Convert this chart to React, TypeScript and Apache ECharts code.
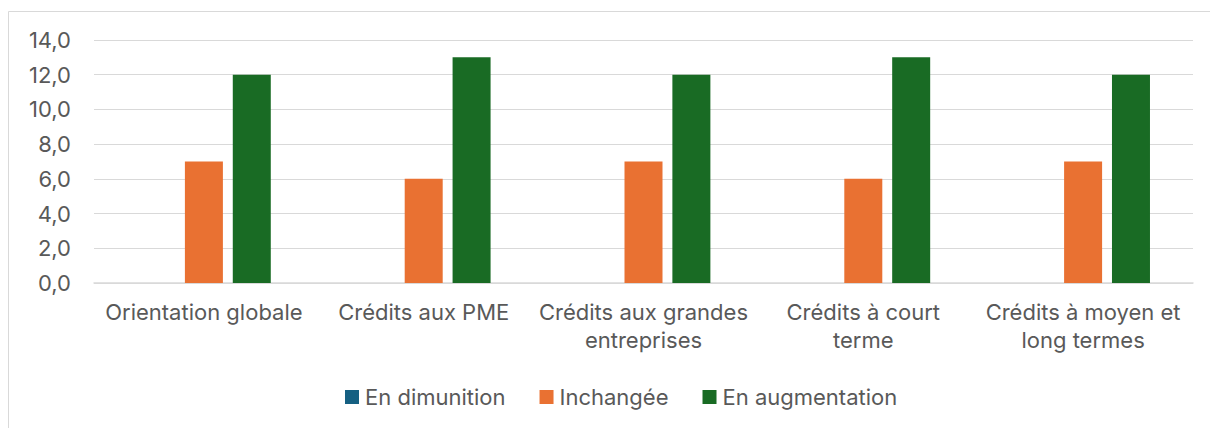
import React, { useEffect, useRef } from "react";
import * as echarts from "echarts";

const categories = [
  "Orientation globale",
  "Crédits aux PME",
  "Crédits aux grandes\nentreprises",
  "Crédits à court\nterme",
  "Crédits à moyen et\nlong termes",
];
const enDiminution = [0, 0, 0, 0, 0];
const inchangee = [7, 6, 7, 6, 7];
const enAugmentation = [12, 13, 12, 13, 12];
const yTicks = { min: 0, max: 14, interval: 2 };

const FONT = "Inter, 'Noto Sans', sans-serif";
const TEXT = "#595959";

export default function App() {
  const ref = useRef<HTMLDivElement>(null);
  useEffect(() => {
    if (!ref.current) return;
    const chart = echarts.init(ref.current, undefined, { renderer: "svg" });
    chart.setOption({
      animation: false,
      backgroundColor: "#ffffff",
      textStyle: { fontFamily: FONT },
      graphic: [
        {
          type: "rect",
          shape: { x: 8.5, y: 11.5, width: 1220, height: 440 },
          style: { fill: "none", stroke: "#d9d9d9", lineWidth: 1 },
          silent: true,
        },
      ],
      grid: { left: 94, right: 17, top: 40, bottom: 145, containLabel: false },
      legend: {
        left: 345,
        top: 386,
        padding: 0,
        itemWidth: 14,
        itemHeight: 14,
        itemGap: 34,
        icon: "rect",
        textStyle: { color: TEXT, fontSize: 22, fontFamily: FONT, padding: [0, 0, 0, 1] },
        data: ["En dimunition", "Inchangée", "En augmentation"],
      },
      xAxis: {
        type: "category",
        data: categories,
        axisLine: { lineStyle: { color: "#d9d9d9", width: 1.5 } },
        axisTick: { show: false },
        axisLabel: {
          color: TEXT,
          fontSize: 22,
          fontFamily: FONT,
          lineHeight: 28,
          margin: 15,
          interval: 0,
        },
      },
      yAxis: {
        type: "value",
        min: yTicks.min,
        max: yTicks.max,
        interval: yTicks.interval,
        axisLine: { show: false },
        axisTick: { show: false },
        splitLine: { lineStyle: { color: "#d9d9d9", width: 1 } },
        axisLabel: {
          color: TEXT,
          fontSize: 22,
          fontFamily: FONT,
          margin: 23,
          formatter: (v: number) => v.toFixed(1).replace(".", ","),
        },
      },
      series: [
        {
          name: "En dimunition",
          type: "bar",
          data: enDiminution,
          barWidth: 38,
          barGap: "26%",
          itemStyle: { color: "#156082" },
        },
        {
          name: "Inchangée",
          type: "bar",
          data: inchangee,
          barWidth: 38,
          barGap: "26%",
          itemStyle: { color: "#E97132" },
        },
        {
          name: "En augmentation",
          type: "bar",
          data: enAugmentation,
          barWidth: 38,
          barGap: "26%",
          itemStyle: { color: "#196B24" },
        },
      ],
    });
    return () => chart.dispose();
  }, []);
  return (
    <div
      ref={ref}
      style={{ position: "absolute", left: 0, top: 0, width: 1210, height: 428 }}
    />
  );
}
